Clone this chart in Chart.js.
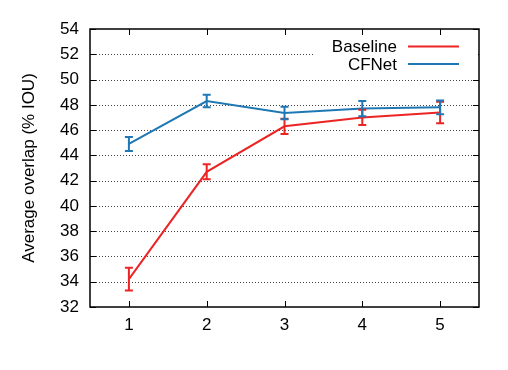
<!DOCTYPE html>
<html>
<head>
<meta charset="utf-8">
<script src="https://cdn.jsdelivr.net/npm/chart.js@4"></script>
<style>
  html, body { margin: 0; padding: 0; background: #fff; }
  #wrap { width: 508px; height: 370px; }
</style>
</head>
<body>
<div id="wrap"><canvas id="chart" width="508" height="370"></canvas></div>
<script>
// values
var steps = [1, 2, 3, 4, 5];
var baseline = [34.2, 42.7, 46.3, 47.0, 47.4];
var baselineErr = [0.9, 0.6, 0.6, 0.6, 0.85];
var cfnet = [44.9, 48.3, 47.35, 47.7, 47.8];
var cfnetErr = [0.55, 0.5, 0.5, 0.6, 0.55];
var yTicks = [32, 34, 36, 38, 40, 42, 44, 46, 48, 50, 52, 54];

var RED = '#ec2424';
var BLUE = '#1f78b4';
var FONT = 'Liberation Sans, Arial, Helvetica, sans-serif';

function pts(ys) {
  return steps.map(function (x, i) { return { x: x, y: ys[i] }; });
}

var gnuplotStyle = {
  id: 'gnuplotStyle',
  beforeDatasetsDraw: function (chart) {
    var ctx = chart.ctx, a = chart.chartArea, ys = chart.scales.y;
    ctx.save();
    ctx.strokeStyle = '#444';
    ctx.lineWidth = 1;
    ctx.setLineDash([1, 2]);
    yTicks.forEach(function (v) {
      if (v === ys.min || v === ys.max) return;
      var py = Math.round(ys.getPixelForValue(v)) + 0.5;
      ctx.beginPath();
      ctx.moveTo(a.left, py);
      ctx.lineTo(a.right, py);
      ctx.stroke();
    });
    ctx.restore();
  },
  afterDatasetsDraw: function (chart) {
    var ctx = chart.ctx, a = chart.chartArea;
    var xs = chart.scales.x, ys = chart.scales.y;
    ctx.save();
    // error bars
    var errs = [baselineErr, cfnetErr];
    chart.data.datasets.forEach(function (ds, k) {
      ctx.strokeStyle = ds.borderColor;
      ctx.lineWidth = 2;
      ds.data.forEach(function (p, i) {
        var px = xs.getPixelForValue(p.x);
        var top = ys.getPixelForValue(p.y + errs[k][i]);
        var bot = ys.getPixelForValue(p.y - errs[k][i]);
        ctx.beginPath();
        ctx.moveTo(px, top); ctx.lineTo(px, bot);
        ctx.moveTo(px - 4, top); ctx.lineTo(px + 4, top);
        ctx.moveTo(px - 4, bot); ctx.lineTo(px + 4, bot);
        ctx.stroke();
      });
    });
    // frame and inward ticks
    ctx.strokeStyle = '#000';
    ctx.lineWidth = 1.5;
    ctx.strokeRect(a.left, a.top, a.right - a.left, a.bottom - a.top);
    ctx.lineWidth = 1;
    ctx.beginPath();
    yTicks.forEach(function (v) {
      var py = Math.round(ys.getPixelForValue(v)) + 0.5;
      ctx.moveTo(a.left, py); ctx.lineTo(a.left + 6, py);
      ctx.moveTo(a.right, py); ctx.lineTo(a.right - 6, py);
    });
    steps.forEach(function (v) {
      var px = Math.round(xs.getPixelForValue(v)) + 0.5;
      ctx.moveTo(px, a.bottom); ctx.lineTo(px, a.bottom - 6);
      ctx.moveTo(px, a.top); ctx.lineTo(px, a.top + 6);
    });
    ctx.stroke();
    ctx.restore();
  },
  afterDraw: function (chart) {
    // gnuplot style key: text on the left, sample line on the right
    var ctx = chart.ctx, a = chart.chartArea;
    ctx.save();
    ctx.fillStyle = '#fff';
    ctx.fillRect(313, a.top + 7, a.right - 313 - 1, 37);
    ctx.font = '17px ' + FONT;
    ctx.textAlign = 'right';
    ctx.textBaseline = 'middle';
    chart.data.datasets.forEach(function (ds, k) {
      var y = 46.5 + k * 17.5;
      ctx.fillStyle = '#000';
      ctx.fillText(ds.label, 397, y + 1);
      ctx.strokeStyle = ds.borderColor;
      ctx.lineWidth = 2;
      ctx.beginPath();
      ctx.moveTo(408, y); ctx.lineTo(459, y);
      ctx.stroke();
    });
    ctx.restore();
  }
};

new Chart(document.getElementById('chart').getContext('2d'), {
  type: 'line',
  data: {
    datasets: [{
      label: 'Baseline',
      data: pts(baseline),
      borderColor: RED,
      borderWidth: 2,
      pointRadius: 0,
      fill: false,
      tension: 0
    }, {
      label: 'CFNet',
      data: pts(cfnet),
      borderColor: BLUE,
      borderWidth: 2,
      pointRadius: 0,
      fill: false,
      tension: 0
    }]
  },
  options: {
    responsive: false,
    animation: false,
    events: [],
    layout: { padding: { left: 0, top: 29, right: 29, bottom: 0 } },
    plugins: {
      legend: { display: false },
      tooltip: { enabled: false }
    },
    scales: {
      x: {
        type: 'linear',
        min: 0.5,
        max: 5.5,
        afterBuildTicks: function (s) { s.ticks = steps.map(function (v) { return { value: v }; }); },
        afterFit: function (s) { s.height = 63; },
        grid: { display: false, drawTicks: false },
        border: { display: false },
        ticks: { padding: 8, color: '#000', font: { family: FONT, size: 17 } }
      },
      y: {
        min: 32,
        max: 54,
        afterBuildTicks: function (s) { s.ticks = yTicks.map(function (v) { return { value: v }; }); },
        afterFit: function (s) { s.width = 90; },
        grid: { display: false, drawTicks: false },
        border: { display: false },
        ticks: { padding: 11, color: '#000', font: { family: FONT, size: 17 } },
        title: {
          display: true,
          text: 'Average overlap (% IOU)',
          color: '#000',
          font: { family: FONT, size: 17 },
          padding: { top: 19, bottom: 0 }
        }
      }
    }
  },
  plugins: [gnuplotStyle]
});
</script>
</body>
</html>
